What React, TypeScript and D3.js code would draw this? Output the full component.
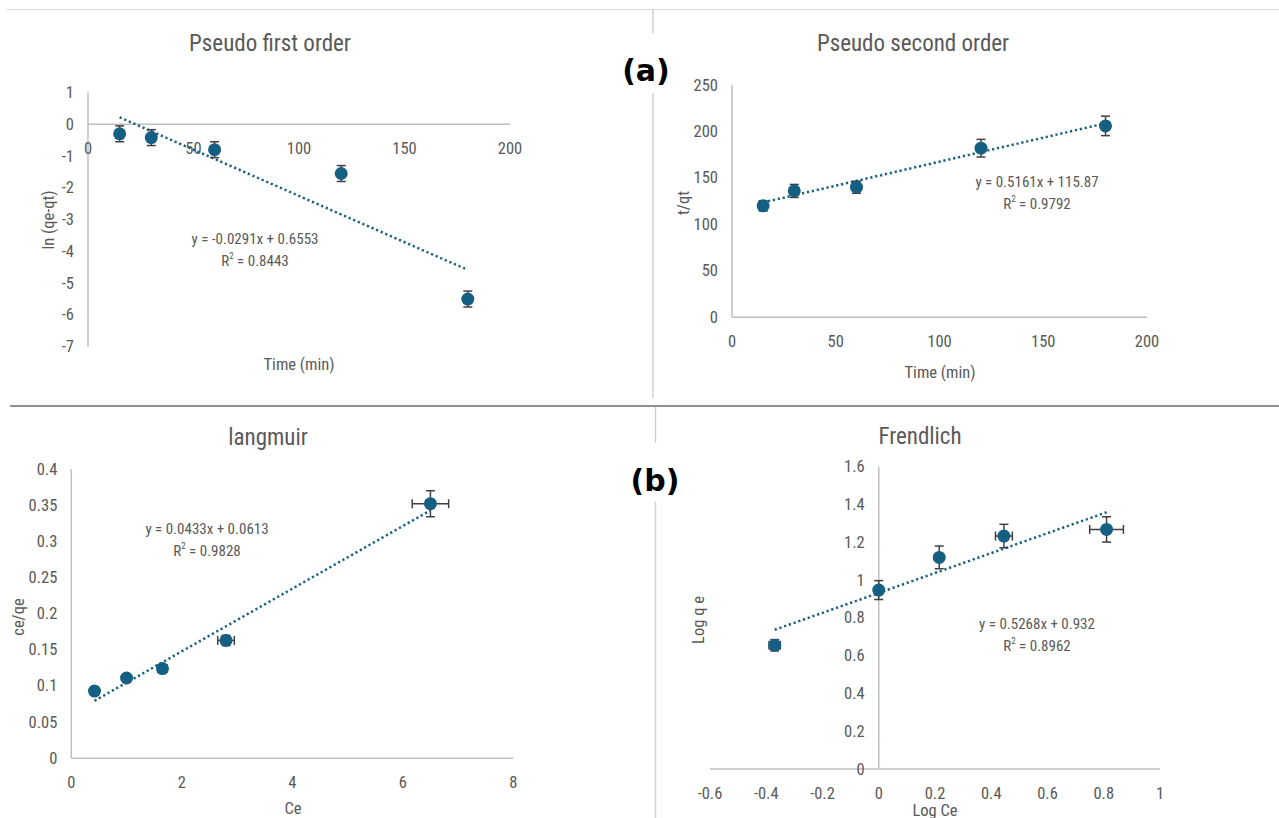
import React from 'react';
import * as d3 from 'd3';

// pseudo first order
const pfoTime = [15, 30, 60, 120, 180];
const pfoLn = [-0.3, -0.42, -0.8, -1.55, -5.5];
const pfoErr = [0.25, 0.25, 0.25, 0.25, 0.25];
const pfoFit = { slope: -0.0291, intercept: 0.6553, eq: 'y = -0.0291x + 0.6553', r2: '0.8443' };
const pfoXTicks = [0, 50, 100, 150, 200];
const pfoYTicks = [1, 0, -1, -2, -3, -4, -5, -6, -7];

// pseudo second order
const psoTime = [15, 30, 60, 120, 180];
const psoTq = [120, 136, 140, 182, 206];
const psoErr = [5.5, 7, 6.5, 9.5, 10.5];
const psoFit = { slope: 0.5161, intercept: 115.87, eq: 'y = 0.5161x + 115.87', r2: '0.9792' };
const psoXTicks = [0, 50, 100, 150, 200];
const psoYTicks = [0, 50, 100, 150, 200, 250];

// langmuir
const lanCe = [0.42, 1.0, 1.65, 2.8, 6.5];
const lanCeQe = [0.093, 0.111, 0.124, 0.163, 0.352];
const lanXErr = [0.03, 0.05, 0.08, 0.15, 0.33];
const lanYErr = [0.003, 0.004, 0.004, 0.007, 0.018];
const lanFit = { slope: 0.0433, intercept: 0.0613, eq: 'y = 0.0433x + 0.0613', r2: '0.9828' };
const lanXTicks = [0, 2, 4, 6, 8];
const lanYTicks = [0, 0.05, 0.1, 0.15, 0.2, 0.25, 0.3, 0.35, 0.4];

// freundlich
const frLogCe = [-0.37, 0, 0.215, 0.445, 0.81];
const frLogQe = [0.655, 0.947, 1.12, 1.233, 1.268];
const frXErr = [0.02, 0.01, 0.01, 0.03, 0.06];
const frYErr = [0.03, 0.05, 0.06, 0.062, 0.067];
const frFit = { slope: 0.5268, intercept: 0.932, eq: 'y = 0.5268x + 0.932', r2: '0.8962' };
const frXTicks = [-0.6, -0.4, -0.2, 0, 0.2, 0.4, 0.6, 0.8, 1];
const frYTicks = [0, 0.2, 0.4, 0.6, 0.8, 1, 1.2, 1.4, 1.6];

const FONT = '"Liberation Sans Narrow", "Roboto Condensed", "DejaVu Sans", sans-serif';
const TXT = '#595959';
const AXIS = '#bfbfbf';
const MARK = '#156082';
const ERR = '#404040';

type PanelProps = {
  title: string;
  titleX: number;
  titleY: number;
  xDomain: [number, number];
  yDomain: [number, number];
  xRange: [number, number];
  yRange: [number, number];
  xTicks: number[];
  yTicks: number[];
  xs: number[];
  ys: number[];
  yErr: number[];
  xErr?: number[];
  fit: { slope: number; intercept: number; eq: string; r2: string };
  eqX: number;
  eqY: number;
  xLabel: string;
  xLabelX: number;
  xLabelY: number;
  yLabel: string;
  yLabelX: number;
  yLabelY: number;
};

const Panel = (p: PanelProps) => {
  const x = d3.scaleLinear().domain(p.xDomain).range(p.xRange);
  const y = d3.scaleLinear().domain(p.yDomain).range(p.yRange);
  const x0 = x(Math.max(p.xDomain[0], Math.min(0, p.xDomain[1])));
  const y0 = y(Math.max(p.yDomain[0], Math.min(0, p.yDomain[1])));
  const fmt = (v: number) => String(+v.toFixed(2));
  const fx = d3.extent(p.xs) as [number, number];
  const line = d3.line<number>()
    .x(d => x(d))
    .y(d => y(p.fit.slope * d + p.fit.intercept));
  const cap = 4.5;

  return (
    <g fontFamily={FONT}>
      <text x={p.titleX} y={p.titleY} textAnchor="middle" dominantBaseline="central"
        fontSize={23} fill={TXT}>{p.title}</text>
      {/* axes */}
      <line x1={x0} x2={x0} y1={p.yRange[0]} y2={p.yRange[1]} stroke={AXIS} strokeWidth={1.5} />
      <line x1={p.xRange[0]} x2={p.xRange[1]} y1={y0} y2={y0} stroke={AXIS} strokeWidth={1.5} />
      {p.xTicks.map(t => (
        <text key={'x' + t} x={x(t)} y={y0 + 24} textAnchor="middle" dominantBaseline="central"
          fontSize={16.5} fill={TXT}>{fmt(t)}</text>
      ))}
      {p.yTicks.map(t => (
        <text key={'y' + t} x={x0 - 14} y={y(t)} textAnchor="end" dominantBaseline="central"
          fontSize={16.5} fill={TXT}>{fmt(t)}</text>
      ))}
      <text x={p.xLabelX} y={p.xLabelY} textAnchor="middle" dominantBaseline="central"
        fontSize={16.5} fill={TXT}>{p.xLabel}</text>
      <text transform={`translate(${p.yLabelX},${p.yLabelY}) rotate(-90)`} textAnchor="middle"
        dominantBaseline="central" fontSize={16.5} fill={TXT}>{p.yLabel}</text>
      {/* trend line */}
      <path d={line(fx) || ''} fill="none" stroke={MARK} strokeWidth={2.5}
        strokeDasharray="2.2 2.8" />
      {/* error bars */}
      {p.xs.map((xv, i) => {
        const cx = x(xv);
        const ylo = y(p.ys[i] - p.yErr[i]);
        const yhi = y(p.ys[i] + p.yErr[i]);
        const xe = p.xErr ? p.xErr[i] : 0;
        const xlo = x(xv - xe);
        const xhi = x(xv + xe);
        const cy = y(p.ys[i]);
        return (
          <g key={'e' + i} stroke={ERR} strokeWidth={1.5}>
            <line x1={cx} x2={cx} y1={ylo} y2={yhi} />
            <line x1={cx - cap} x2={cx + cap} y1={ylo} y2={ylo} />
            <line x1={cx - cap} x2={cx + cap} y1={yhi} y2={yhi} />
            {xe > 0 && (
              <>
                <line x1={xlo} x2={xhi} y1={cy} y2={cy} />
                <line x1={xlo} x2={xlo} y1={cy - cap} y2={cy + cap} />
                <line x1={xhi} x2={xhi} y1={cy - cap} y2={cy + cap} />
              </>
            )}
          </g>
        );
      })}
      {p.xs.map((xv, i) => (
        <circle key={'c' + i} cx={x(xv)} cy={y(p.ys[i])} r={6.5} fill={MARK} />
      ))}
      <text x={p.eqX} y={p.eqY} textAnchor="middle" dominantBaseline="central" fontSize={15}
        fill={TXT}>{p.fit.eq}</text>
      <text x={p.eqX} y={p.eqY + 22} textAnchor="middle" dominantBaseline="central" fontSize={15}
        fill={TXT}>R<tspan dy={-5} fontSize={9}>2</tspan><tspan dy={5}> = {p.fit.r2}</tspan></text>
    </g>
  );
};

export default function App() {
  return (
    <svg width={1279} height={818} style={{ position: 'absolute', left: 0, top: 0, background: '#fff' }}>
      {/* frame lines */}
      <line x1={7} x2={1279} y1={9.5} y2={9.5} stroke="#d9d9d9" strokeWidth={1} />
      <line x1={653} x2={653} y1={10} y2={33} stroke="#d0d0d0" strokeWidth={1.5} />
      <line x1={653} x2={653} y1={93} y2={398} stroke="#d0d0d0" strokeWidth={1.5} />
      <line x1={10} x2={1279} y1={406} y2={406} stroke="#6b6b6b" strokeWidth={1.5} />
      <line x1={655.5} x2={655.5} y1={407} y2={443} stroke="#d0d0d0" strokeWidth={1.5} />
      <line x1={655.5} x2={655.5} y1={502} y2={818} stroke="#d0d0d0" strokeWidth={1.5} />

      <text x={646} y={70} textAnchor="middle" dominantBaseline="central" fontSize={30}
        fontWeight="bold" fontFamily="'DejaVu Sans', sans-serif" fill="#000">(a)</text>
      <text x={655} y={480} textAnchor="middle" dominantBaseline="central" fontSize={30}
        fontWeight="bold" fontFamily="'DejaVu Sans', sans-serif" fill="#000">(b)</text>

      <Panel title="Pseudo first order" titleX={270} titleY={43}
        xDomain={[0, 200]} yDomain={[-7, 1]} xRange={[88, 510]} yRange={[346.7, 92.5]}
        xTicks={pfoXTicks} yTicks={pfoYTicks} xs={pfoTime} ys={pfoLn} yErr={pfoErr}
        fit={pfoFit} eqX={255} eqY={239}
        xLabel="Time (min)" xLabelX={299} xLabelY={364}
        yLabel="ln (qe-qt)" yLabelX={48} yLabelY={220} />

      <Panel title="Pseudo second order" titleX={913} titleY={43}
        xDomain={[0, 200]} yDomain={[0, 250]} xRange={[732, 1147]} yRange={[317.3, 85]}
        xTicks={psoXTicks} yTicks={psoYTicks} xs={psoTime} ys={psoTq} yErr={psoErr}
        fit={psoFit} eqX={1037} eqY={182}
        xLabel="Time (min)" xLabelX={940} xLabelY={372}
        yLabel="t/qt" yLabelX={683} yLabelY={203} />

      <Panel title="langmuir" titleX={268} titleY={437}
        xDomain={[0, 8]} yDomain={[0, 0.4]} xRange={[71.3, 513.3]} yRange={[758.3, 469]}
        xTicks={lanXTicks} yTicks={lanYTicks} xs={lanCe} ys={lanCeQe} yErr={lanYErr} xErr={lanXErr}
        fit={lanFit} eqX={207} eqY={529}
        xLabel="Ce" xLabelX={293} xLabelY={808}
        yLabel="ce/qe" yLabelX={18} yLabelY={617} />

      <Panel title="Frendlich" titleX={920} titleY={436}
        xDomain={[-0.6, 1]} yDomain={[0, 1.6]} xRange={[710, 1160]} yRange={[769, 466.7]}
        xTicks={frXTicks} yTicks={frYTicks} xs={frLogCe} ys={frLogQe} yErr={frYErr} xErr={frXErr}
        fit={frFit} eqX={1037} eqY={624}
        xLabel="Log Ce" xLabelX={935} xLabelY={810}
        yLabel="Log q e" yLabelX={698} yLabelY={620} />
    </svg>
  );
}
